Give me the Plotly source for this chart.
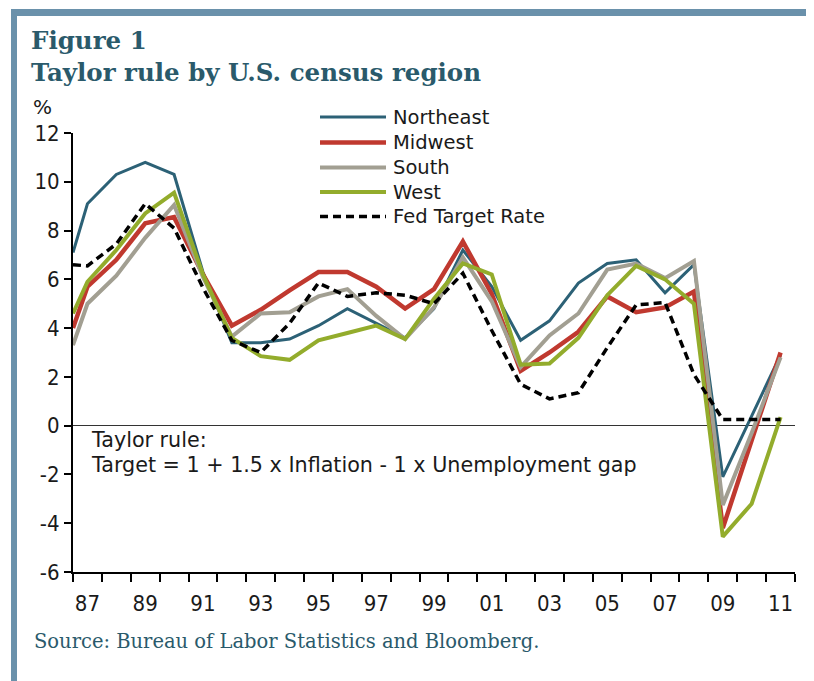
import plotly.graph_objects as go

years = [1986.5] + list(range(1987, 2012))

northeast = [7.1, 9.1, 10.3, 10.8, 10.3, 6.3, 3.4, 3.4, 3.55, 4.1, 4.8, 4.2, 3.6, 4.8,
             7.2, 5.7, 3.5, 4.3, 5.85, 6.65, 6.8, 5.45, 6.6, -2.1, 0.4, 2.9]
midwest = [4.0, 5.7, 6.8, 8.3, 8.55, 6.2, 4.1, 4.75, 5.55, 6.3, 6.3, 5.7, 4.8, 5.6,
           7.55, 5.4, 2.25, 3.0, 3.85, 5.3, 4.65, 4.85, 5.5, -4.2, -0.6, 3.0]
south = [3.3, 5.0, 6.15, 7.7, 9.05, 6.1, 3.65, 4.6, 4.65, 5.3, 5.6, 4.5, 3.55, 4.85,
         6.9, 5.1, 2.4, 3.7, 4.6, 6.4, 6.65, 6.05, 6.75, -3.25, -0.3, 2.8]
west = [4.6, 5.9, 7.2, 8.7, 9.55, 6.2, 3.6, 2.85, 2.7, 3.5, 3.8, 4.1, 3.55, 5.2,
        6.65, 6.2, 2.5, 2.55, 3.6, 5.35, 6.55, 6.0, 5.0, -4.55, -3.2, 0.35]
fed_target = [6.6, 6.55, 7.45, 9.1, 8.1, 5.65, 3.5, 3.0, 4.2, 5.85, 5.3, 5.45, 5.35, 5.0,
              6.25, 3.9, 1.7, 1.1, 1.35, 3.2, 4.95, 5.05, 2.1, 0.25, 0.25, 0.25]

series_names = ["Northeast", "Midwest", "South", "West", "Fed Target Rate"]
series_values = [northeast, midwest, south, west, fed_target]
series_colors = ["#2c6176", "#c0392f", "#a29f92", "#93ac2c", "#000000"]
series_widths = [3, 4.5, 4, 4, 3.5]
series_dash = ["solid", "solid", "solid", "solid", "8px,5px"]

x_tick_vals = list(range(1987, 2012, 2))
x_tick_text = ["87", "89", "91", "93", "95", "97", "99", "01", "03", "05", "07", "09", "11"]
y_tick_vals = list(range(-6, 13, 2))
y_tick_text = ["-6", "-4", "-2", "0", "2", "4", "6", "8", "10", "12"]

W, H = 814, 681
OFF = 8  # page offset of the figure in the browser
L, T = 73 - OFF, 133 - OFF
PW, PH = 722, 439
R, B = W - L - PW, H - T - PH


def px(x):
    return (x - OFF - L) / PW


def py(y):
    return (T + PH - (y - OFF)) / PH


SANS = "DejaVu Sans"
NARROW = "Liberation Sans Narrow, DejaVu Sans Condensed, Roboto Condensed, DejaVu Sans"
SERIF = "DejaVu Serif"
TEAL = "#2a5a6b"
FRAME = "#6a91ab"

fig = go.Figure()
for name, vals, col, wd, ds in zip(series_names, series_values, series_colors, series_widths, series_dash):
    fig.add_trace(go.Scatter(x=years, y=vals, mode="lines", name=name,
                             line=dict(color=col, width=wd, dash=ds), hoverinfo="skip",
                             showlegend=False))

shapes = []
annotations = []

# frame
shapes.append(dict(type="rect", xref="paper", yref="paper", x0=px(11), x1=px(830), y0=py(16), y1=py(9),
                   fillcolor=FRAME, line=dict(width=0), layer="above"))
shapes.append(dict(type="rect", xref="paper", yref="paper", x0=px(11), x1=px(17), y0=py(700), y1=py(9),
                   fillcolor=FRAME, line=dict(width=0), layer="above"))

# manual legend
leg_y = [117, 142.5, 167.5, 192, 216.5]
for name, col, wd, ds, yy in zip(series_names, series_colors, series_widths, series_dash, leg_y):
    shapes.append(dict(type="line", xref="paper", yref="paper", x0=px(320), x1=px(386), y0=py(yy), y1=py(yy),
                       line=dict(color=col, width=wd, dash=ds)))
    annotations.append(dict(text=name, xref="paper", yref="paper", x=px(391), y=py(yy), xanchor="left",
                            yanchor="middle", showarrow=False, font=dict(family=SANS, size=19.5, color="#1a1a1a")))

annotations += [
    dict(text="<b>Figure 1</b>", x=px(29), y=py(40), xref="paper", yref="paper", xanchor="left", yanchor="middle",
         showarrow=False, font=dict(family=SERIF, size=24.5, color=TEAL)),
    dict(text="<b>Taylor rule by U.S. census region</b>", x=px(29), y=py(73), xref="paper", yref="paper",
         xanchor="left", yanchor="middle", showarrow=False, font=dict(family=SERIF, size=24.5, color=TEAL)),
    dict(text="%", x=px(31), y=py(107), xref="paper", yref="paper", xanchor="left", yanchor="middle",
         showarrow=False, font=dict(family=SANS, size=20, color="#1a1a1a")),
    dict(text="Taylor rule:", x=px(89), y=py(440), xref="paper", yref="paper", xanchor="left", yanchor="middle",
         showarrow=False, font=dict(family=SANS, size=20.7, color="#1a1a1a")),
    dict(text="Target = 1 + 1.5 x Inflation - 1 x Unemployment gap", x=px(89), y=py(465), xref="paper",
         yref="paper", xanchor="left", yanchor="middle", showarrow=False,
         font=dict(family=SANS, size=20.7, color="#1a1a1a")),
    dict(text="Source: Bureau of Labor Statistics and Bloomberg.", x=px(32), y=py(641), xref="paper",
         yref="paper", xanchor="left", yanchor="middle", showarrow=False,
         font=dict(family=SERIF, size=19.5, color=TEAL)),
]

fig.update_layout(
    width=W, height=H, margin=dict(l=L, r=R, t=T, b=B, pad=0),
    paper_bgcolor="white", plot_bgcolor="white", showlegend=False,
    shapes=shapes, annotations=annotations,
    xaxis=dict(range=[1986.5, 2011.5], tickmode="array", tickvals=x_tick_vals, ticktext=x_tick_text,
               ticks="", ticklen=0, showgrid=False, zeroline=False, showline=True, linecolor="black",
               linewidth=2, ticklabelstandoff=11,
               tickfont=dict(family=NARROW, size=22, color="#1a1a1a"),
               minor=dict(tickmode="linear", tick0=1986.5, dtick=1, ticks="outside", ticklen=8,
                          tickcolor="black", tickwidth=1.5, showgrid=False)),
    yaxis=dict(range=[-6, 12], tickmode="array", tickvals=y_tick_vals, ticktext=y_tick_text,
               ticks="outside", ticklen=7,
               tickcolor="black", tickwidth=1.5, showgrid=False, zeroline=True, zerolinecolor="#333333",
               zerolinewidth=1, showline=True, linecolor="black", linewidth=2, ticklabelstandoff=0,
               tickfont=dict(family=NARROW, size=22, color="#1a1a1a")),
)

fig.write_html("out.html", config={"displayModeBar": False})
